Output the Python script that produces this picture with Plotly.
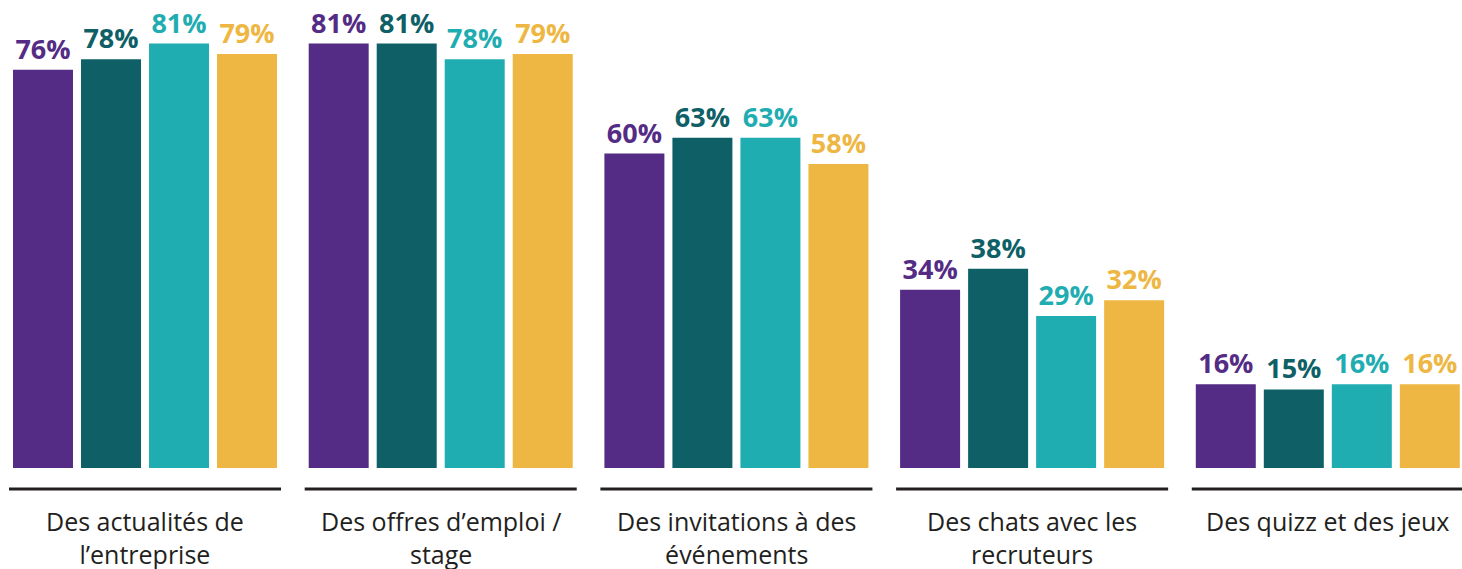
import plotly.graph_objects as go

categories = [
    "Des actualités de<br>l’entreprise",
    "Des offres d’emploi /<br>stage",
    "Des invitations à des<br>événements",
    "Des chats avec les<br>recruteurs",
    "Des quizz et des jeux",
]
series_names = ["Série 1", "Série 2", "Série 3", "Série 4"]
series_values = [
    [76, 81, 60, 34, 16],
    [78, 81, 63, 38, 15],
    [81, 78, 63, 29, 16],
    [79, 79, 58, 32, 16],
]
colors = ["#542C85", "#0E6066", "#1FADB1", "#EEB743"]

bargap = 0.08
fig = go.Figure()
for name, vals, col in zip(series_names, series_values, colors):
    fig.add_trace(go.Bar(
        x=list(range(len(categories))), y=vals, name=name,
        marker=dict(color=col, line=dict(width=0)),
        text=[f"{v}%" for v in vals], textposition="outside",
        textfont=dict(family="Open Sans", size=27, color=col, weight="bold"),
        cliponaxis=False,
    ))

half = (1 - bargap) / 2
for i, cat in enumerate(categories):
    fig.add_shape(type="line", xref="x", yref="paper",
                  x0=i - half, x1=i + half, y0=-0.045, y1=-0.045,
                  line=dict(color="#231F20", width=3))
    fig.add_annotation(x=i, xref="x", y=-0.072, yref="paper", text=cat,
                       showarrow=False, yanchor="top", align="center",
                       font=dict(family="Open Sans", size=25, color="#231F20"))

fig.update_layout(
    width=1462, height=569,
    margin=dict(l=0, r=0, t=0, b=101),
    paper_bgcolor="white", plot_bgcolor="white",
    barmode="group", bargap=bargap, bargroupgap=0.118,
    showlegend=False,
    xaxis=dict(range=[-0.4904, 4.4538], showticklabels=False, showgrid=False,
               zeroline=False, showline=False, tickvals=[]),
    yaxis=dict(range=[0, 89.3], visible=False),
)
fig.write_html("out.html", config={"displayModeBar": False},
               post_script="document.body.style.margin='0';")
